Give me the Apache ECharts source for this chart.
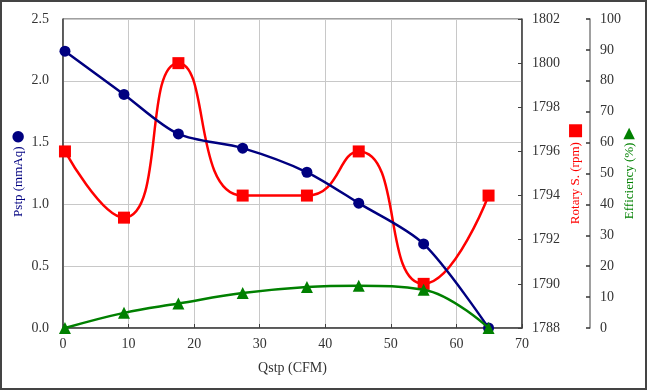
<!DOCTYPE html>
<html>
<head>
<meta charset="utf-8">
<script src="https://cdn.jsdelivr.net/npm/echarts@6/dist/echarts.min.js"></script>
<style>
html,body{margin:0;padding:0;background:#fff;}
#wrap{width:647px;height:390px;box-sizing:border-box;border:2px solid #444;position:relative;}
#chart{position:absolute;left:-2px;top:-2px;width:647px;height:390px;}
</style>
</head>
<body>
<div id="wrap"><div id="chart"></div></div>
<script>
// Data
var qstp = [0.3, 9.3, 17.6, 27.4, 37.2, 45.1, 55.0, 64.9];   // Qstp (CFM)
var pstp = [2.24, 1.89, 1.57, 1.455, 1.26, 1.01, 0.68, 0.0];  // Pstp (mmAq)
var rpm  = [1796, 1793, 1800, 1794, 1794, 1796, 1790, 1794];  // Rotary S. (rpm)
var eff  = [0, 4.9, 7.9, 11.3, 13.3, 13.7, 12.4, 0];          // Efficiency (%)
var xTicks = [0, 10, 20, 30, 40, 50, 60, 70];

function pairs(xs, ys){ return xs.map(function(x,i){ return [x, ys[i]]; }); }

var FONT = 'Liberation Serif';
var chart = echarts.init(document.getElementById('chart'), null, {renderer:'canvas'});
chart.setOption({
  animation:false,
  backgroundColor:'transparent',
  grid:{left:63, right:125, top:19, bottom:62, show:true, borderColor:'#404040', borderWidth:1,
        containLabel:false, outerBoundsMode:'none'},
  xAxis:{
    type:'value', min:xTicks[0], max:xTicks[xTicks.length-1], interval:10,
    name:'Qstp (CFM)', nameLocation:'middle', nameGap:33, nameMoveOverlap:false,
    nameTextStyle:{fontFamily:FONT, fontSize:14, color:'#333'},
    axisLine:{show:true, lineStyle:{color:'#404040', width:1.5}},
    axisTick:{show:true, inside:true, length:4, lineStyle:{color:'#404040'}},
    axisLabel:{fontFamily:FONT, fontSize:14, color:'#333', margin:9},
    splitLine:{show:true, lineStyle:{color:'#c8c8c8', width:1}}
  },
  yAxis:[
    {
      type:'value', min:0, max:2.5, interval:0.5, position:'left',
      name:'Pstp (mmAq) {c|●}', nameLocation:'middle', nameGap:37, nameMoveOverlap:false,
      nameTextStyle:{fontFamily:FONT, fontSize:13, color:'#000080',
        rich:{c:{fontFamily:'DejaVu Sans', fontSize:15, color:'#000080'}}},
      axisLine:{show:true, lineStyle:{color:'#404040', width:1.5}},
      axisTick:{show:false},
      axisLabel:{fontFamily:FONT, fontSize:14, color:'#333', margin:14,
        formatter:function(v){return v.toFixed(1);}},
      splitLine:{show:true, lineStyle:{color:'#c8c8c8', width:1}}
    },
    {
      type:'value', min:1788, max:1802, interval:2, position:'right',
      name:'Rotary S. (rpm) {c|■}', nameLocation:'middle', nameGap:45, nameMoveOverlap:false,
      nameTextStyle:{fontFamily:FONT, fontSize:13, color:'#ff0000',
        rich:{c:{fontFamily:'DejaVu Sans', fontSize:17, color:'#ff0000'}}},
      axisLine:{show:true, lineStyle:{color:'#404040', width:1.5}},
      axisTick:{show:true, inside:true, length:4, lineStyle:{color:'#404040'}},
      axisLabel:{fontFamily:FONT, fontSize:14, color:'#333', margin:10,
        formatter:function(v){return String(v);}},
      splitLine:{show:false}
    },
    {
      type:'value', min:0, max:100, interval:10, position:'right', offset:68,
      name:'Efficiency (%) {c|▶}', nameLocation:'middle', nameGap:32, nameMoveOverlap:false,
      nameTextStyle:{fontFamily:FONT, fontSize:13, color:'#008000',
        rich:{c:{fontFamily:'DejaVu Sans', fontSize:15, color:'#008000'}}},
      axisLine:{show:true, lineStyle:{color:'#808080', width:1.5}},
      axisTick:{show:true, inside:true, length:4, lineStyle:{color:'#333', width:1.5}},
      axisLabel:{fontFamily:FONT, fontSize:14, color:'#333', margin:10},
      splitLine:{show:false}
    }
  ],
  series:[
    {
      name:'Pstp', type:'line', yAxisIndex:0, smooth:0.3,
      data:pairs(qstp, pstp),
      symbol:'circle', symbolSize:11, showAllSymbol:true,
      lineStyle:{color:'#000080', width:2.5},
      itemStyle:{color:'#000080'}, z:4
    },
    {
      name:'Rotary', type:'line', yAxisIndex:1, smooth:0.55,
      data:pairs(qstp, rpm),
      symbol:'rect', symbolSize:12, showAllSymbol:true,
      lineStyle:{color:'#ff0000', width:2.5},
      itemStyle:{color:'#ff0000'}, z:3
    },
    {
      name:'Efficiency', type:'line', yAxisIndex:2, smooth:0.4,
      data:pairs(qstp, eff),
      symbol:'triangle', symbolSize:12, showAllSymbol:true,
      lineStyle:{color:'#008000', width:2.5},
      itemStyle:{color:'#008000'}, z:5
    }
  ]
});
</script>
</body>
</html>
